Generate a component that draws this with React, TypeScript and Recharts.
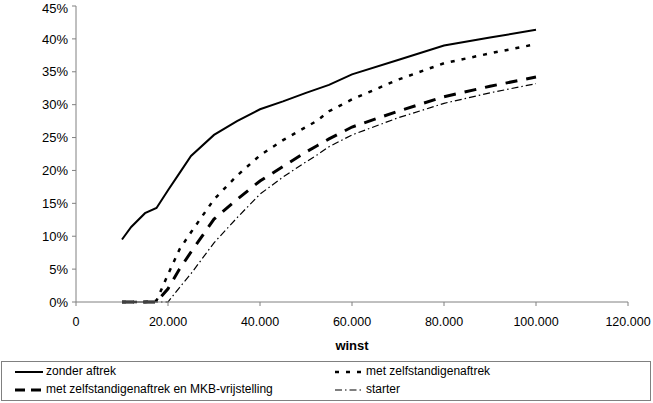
import { LineChart, Line, XAxis, YAxis } from "recharts";

const winst = [10000, 12000, 15000, 17500, 20000, 22500, 25000, 30000, 35000, 40000, 45000, 50000, 52500, 55000, 60000, 70000, 80000, 90000, 100000];
const zonderAftrek = [9.5, 11.4, 13.5, 14.3, 17.0, 19.6, 22.2, 25.4, 27.5, 29.3, 30.5, 31.8, 32.4, 33.0, 34.6, 36.8, 39.0, 40.2, 41.4];
const zelfstandigenaftrek = [0, 0, 0, 0.2, 4.2, 8.0, 10.6, 15.6, 19.2, 22.3, 24.6, 26.6, 27.6, 29.0, 30.8, 33.8, 36.3, 37.8, 39.2];
const mkbVrijstelling = [0, 0, 0, 0, 2.0, 5.0, 7.6, 12.6, 15.6, 18.4, 20.6, 22.8, 23.8, 24.8, 26.6, 29.0, 31.2, 32.8, 34.2];
const starter = [0, 0, 0, 0, 0, 2.2, 4.3, 9.0, 12.8, 16.4, 19.0, 21.3, 22.4, 23.6, 25.4, 28.0, 30.2, 31.8, 33.2];

const xTicks = [0, 20000, 40000, 60000, 80000, 100000, 120000];
const yTicks = [0, 5, 10, 15, 20, 25, 30, 35, 40, 45];

const data = winst.map((w, i) => ({
  winst: w,
  zonder: zonderAftrek[i],
  zelf: zelfstandigenaftrek[i],
  mkb: mkbVrijstelling[i],
  starter: starter[i],
}));

const font = "'Liberation Sans', Arial, sans-serif";
const fmtX = (v: number) => String(v).replace(/\B(?=(\d{3})+(?!\d))/g, ".");

function Sample({ dash, width }: { dash?: string; width: number }) {
  return (
    <svg width={30} height={10} style={{ verticalAlign: "middle", marginRight: 2 }}>
      <line x1={1} y1={5} x2={29} y2={5} stroke="#000" strokeWidth={width} strokeDasharray={dash} />
    </svg>
  );
}

export default function App() {
  const item = { position: "absolute" as const, whiteSpace: "nowrap" as const, fontSize: 12 };
  return (
    <div style={{ position: "absolute", left: 0, top: 0, width: 653, height: 403, background: "#fff", fontFamily: font }}>
      <LineChart width={653} height={403} data={data} margin={{ top: 6, right: 25, left: 0, bottom: 0 }}>
        <XAxis
          dataKey="winst"
          type="number"
          domain={[0, 120000]}
          ticks={xTicks}
          tickFormatter={fmtX}
          height={101}
          stroke="#808080"
          tickSize={4}
          tickMargin={11}
          tick={{ fill: "#000", fontSize: 12.5, fontFamily: font }}
          label={{ value: "winst", position: "insideTop", offset: 39, fill: "#000", fontSize: 13, fontWeight: "bold", fontFamily: font }}
        />
        <YAxis
          domain={[0, 45]}
          ticks={yTicks}
          tickFormatter={(v: number) => v + "%"}
          width={76}
          stroke="#808080"
          tickSize={4}
          tickMargin={4}
          tick={{ fill: "#000", fontSize: 13, fontFamily: font }}
        />
        <Line dataKey="zonder" stroke="#000" strokeWidth={2} dot={false} isAnimationActive={false} />
        <Line dataKey="zelf" stroke="#000" strokeWidth={2.5} strokeDasharray="4 7" dot={false} isAnimationActive={false} />
        <Line dataKey="mkb" stroke="#000" strokeWidth={3} strokeDasharray="12 9" dot={false} isAnimationActive={false} />
        <Line dataKey="starter" stroke="#000" strokeWidth={1.2} strokeDasharray="7 3 1.5 3" dot={false} isAnimationActive={false} />
      </LineChart>
      <div style={{ position: "absolute", left: 1, top: 361, width: 648, height: 38, border: "1px solid #808080" }}>
        <div style={{ ...item, left: 12, top: 2 }}><Sample width={2} />zonder aftrek</div>
        <div style={{ ...item, left: 332, top: 2 }}><Sample width={2.5} dash="4 7" />met zelfstandigenaftrek</div>
        <div style={{ ...item, left: 12, top: 20 }}><Sample width={3} dash="10 6" />met zelfstandigenaftrek en MKB-vrijstelling</div>
        <div style={{ ...item, left: 332, top: 20 }}><Sample width={1.2} dash="7 3 1.5 3" />starter</div>
      </div>
    </div>
  );
}
